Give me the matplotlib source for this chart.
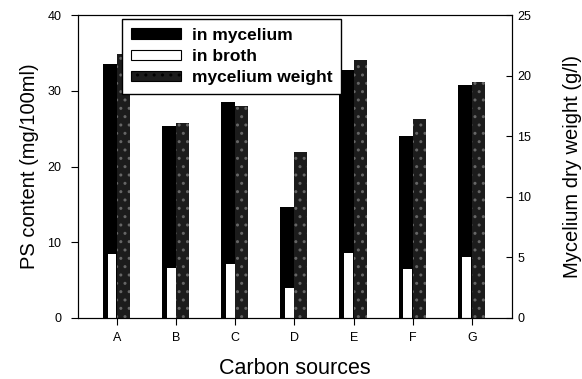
import matplotlib.pyplot as plt
import numpy as np

plt.rcParams['font.family'] = ['Liberation Sans', 'DejaVu Sans']

# data
sources = ['A', 'B', 'C', 'D', 'E', 'F', 'G']
ps_mycelium = [33.5, 25.4, 28.5, 14.6, 32.7, 24.0, 30.8]   # mg/100ml
ps_broth = [8.5, 6.6, 7.1, 4.0, 8.6, 6.5, 8.1]             # mg/100ml
dry_weight = [21.8, 16.1, 17.5, 13.7, 21.3, 16.4, 19.5]    # g/l

x = np.arange(len(sources))

fig = plt.figure(figsize=(5.82, 3.79), dpi=100)
ax = fig.add_axes([0.134, 0.161, 0.746, 0.799])
ax2 = ax.twinx()

b1 = ax.bar(x - 0.24, ps_mycelium, width=0.24, align='edge',
            color='black', linewidth=0, label='in mycelium')
b2 = ax.bar(x - 0.16, ps_broth, width=0.15, align='edge',
            color='white', linewidth=0, label='in broth')
b3 = ax2.bar(x, dry_weight, width=0.22, align='edge',
             color='#1c1c1c', edgecolor='#666666', linewidth=0,
             hatch='..', label='mycelium weight')

ax.set_xlim(-0.66, 6.68)
ax.set_ylim(0, 40)
ax2.set_ylim(0, 25)
ax.set_xticks(x)
ax.set_xticklabels(sources)
ax.set_yticks([0, 10, 20, 30, 40])
ax2.set_yticks([0, 5, 10, 15, 20, 25])

ax.tick_params(axis='y', direction='out', length=5, pad=7, labelsize=9)
ax.tick_params(axis='x', direction='out', length=5, pad=5, labelsize=9)
ax2.tick_params(axis='y', direction='in', length=4, labelsize=9)

ax.set_xlabel('Carbon sources', fontsize=15.5, labelpad=10)
ax.set_ylabel('PS content (mg/100ml)', fontsize=14.5, labelpad=6)
ax2.set_ylabel('Mycelium dry weight (g/l)', fontsize=14.5, labelpad=23)

handles = [b1, b2, b3]
leg = ax2.legend(handles, [h.get_label() for h in handles],
                 loc='upper left', bbox_to_anchor=(0.101, 0.987),
                 borderaxespad=0,
                 prop={'weight': 'bold', 'size': 12.5},
                 handlelength=2.9, handleheight=0.55, labelspacing=0.36,
                 fancybox=False, framealpha=1, edgecolor='black',
                 borderpad=0.5, handletextpad=0.65)
for patch in leg.get_patches():
    patch.set_edgecolor('black')
    patch.set_linewidth(0.8)
leg.get_frame().set_linewidth(1.0)

fig.savefig('out.png', dpi=100)
